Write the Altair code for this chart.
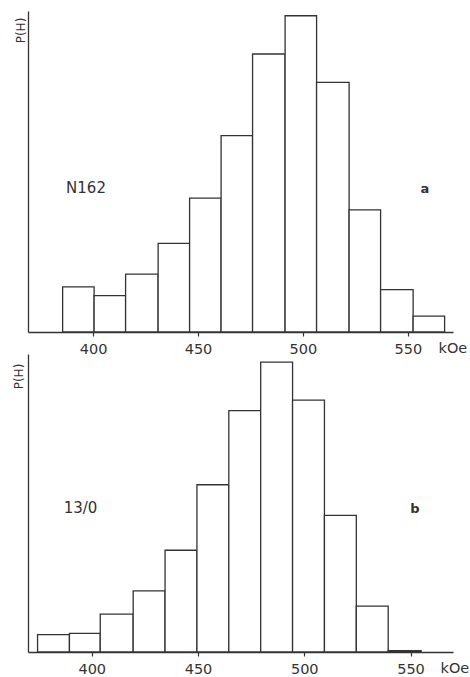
import altair as alt
import pandas as pd

# ---- data (P(H) in % of the peak bin) ----
ticks = [400, 450, 500, 550]

a_lo = [385.5, 400.5, 415.5, 431.0, 446.0, 461.0, 476.0, 491.5, 506.5, 522.0, 537.0, 552.5]
a_hi = [400.5, 415.5, 431.0, 446.0, 461.0, 476.0, 491.5, 506.5, 522.0, 537.0, 552.5, 567.5]
a_p = [14.3, 11.5, 18.3, 28.0, 42.3, 62.1, 87.9, 100.0, 78.9, 38.6, 13.4, 5.0]

b_lo = [374.5, 389.5, 404.0, 419.5, 434.5, 449.5, 464.5, 479.5, 494.5, 509.5, 524.5, 539.5]
b_hi = [389.5, 404.0, 419.5, 434.5, 449.5, 464.5, 479.5, 494.5, 509.5, 524.5, 539.5, 555.0]
b_p = [6.0, 6.4, 13.1, 21.1, 35.1, 57.7, 83.3, 100.0, 86.9, 47.1, 15.8, 0.5]

INK = "#333333"
FONT = "DejaVu Sans"
W = 425


def panel(lo, hi, p, xdom, ymax, h, name, letter, name_xy, letter_xy, ptitle_xy, unit_xy):
    df = pd.DataFrame({"lo": lo, "hi": hi, "p": p})
    x = alt.X(
        "lo:Q",
        scale=alt.Scale(domain=xdom, nice=False, zero=False),
        axis=alt.Axis(
            values=ticks, format="d", grid=False,
            title="kOe", titleX=unit_xy[0], titleY=unit_xy[1],
            titleAlign="left", titleBaseline="middle", titleAnchor="start",
            titleFont=FONT, titleFontSize=14.5, titleFontWeight="normal", titleColor=INK,
            labelFont=FONT, labelFontSize=14.5, labelColor=INK, labelPadding=6,
            labelFlush=False, tickSize=4, tickColor=INK, tickWidth=1.2,
            domainColor=INK, domainWidth=1.3,
        ),
    )
    y = alt.Y(
        "p:Q",
        scale=alt.Scale(domain=[0, ymax], nice=False),
        axis=alt.Axis(
            labels=False, ticks=False, grid=False,
            domainColor=INK, domainWidth=1.3,
            title="P(H)", titleAngle=270, titleX=ptitle_xy[0], titleY=ptitle_xy[1],
            titleAlign="center", titleBaseline="middle",
            titleFont=FONT, titleFontSize=12, titleFontWeight="normal", titleColor=INK,
        ),
    )
    bars = alt.Chart(df).mark_rect(fill="white", stroke=INK, strokeWidth=1.3).encode(
        x=x, x2="hi:Q", y=y, y2=alt.datum(0)
    )
    t1 = alt.Chart(pd.DataFrame({"t": [name]})).mark_text(
        font=FONT, fontSize=15, color=INK, align="center", baseline="middle"
    ).encode(x=alt.value(name_xy[0]), y=alt.value(name_xy[1]), text="t:N")
    t2 = alt.Chart(pd.DataFrame({"t": [letter]})).mark_text(
        font=FONT, fontSize=13, fontWeight="bold", color=INK, align="center", baseline="middle"
    ).encode(x=alt.value(letter_xy[0]), y=alt.value(letter_xy[1]), text="t:N")
    return alt.layer(bars, t1, t2).properties(width=W, height=h)


pa = panel(a_lo, a_hi, a_p, [369, 571.5], 101.5, 321, "N162", "a",
           (58, 177), (397, 178), (-8, 19), (410, 16))
pb = panel(b_lo, b_hi, b_p, [370, 570], 102.8, 298, "13/0", "b",
           (52.5, 153.5), (387, 155), (-10, 22), (412, 16.5))

chart = alt.vconcat(pa, pb, spacing=22, bounds="flush").properties(
    padding={"left": 12, "top": 11, "right": 0, "bottom": 0},
    background="white",
).configure_view(stroke=None)

chart.save("out.html", embed_options={"renderer": "svg", "actions": False})
